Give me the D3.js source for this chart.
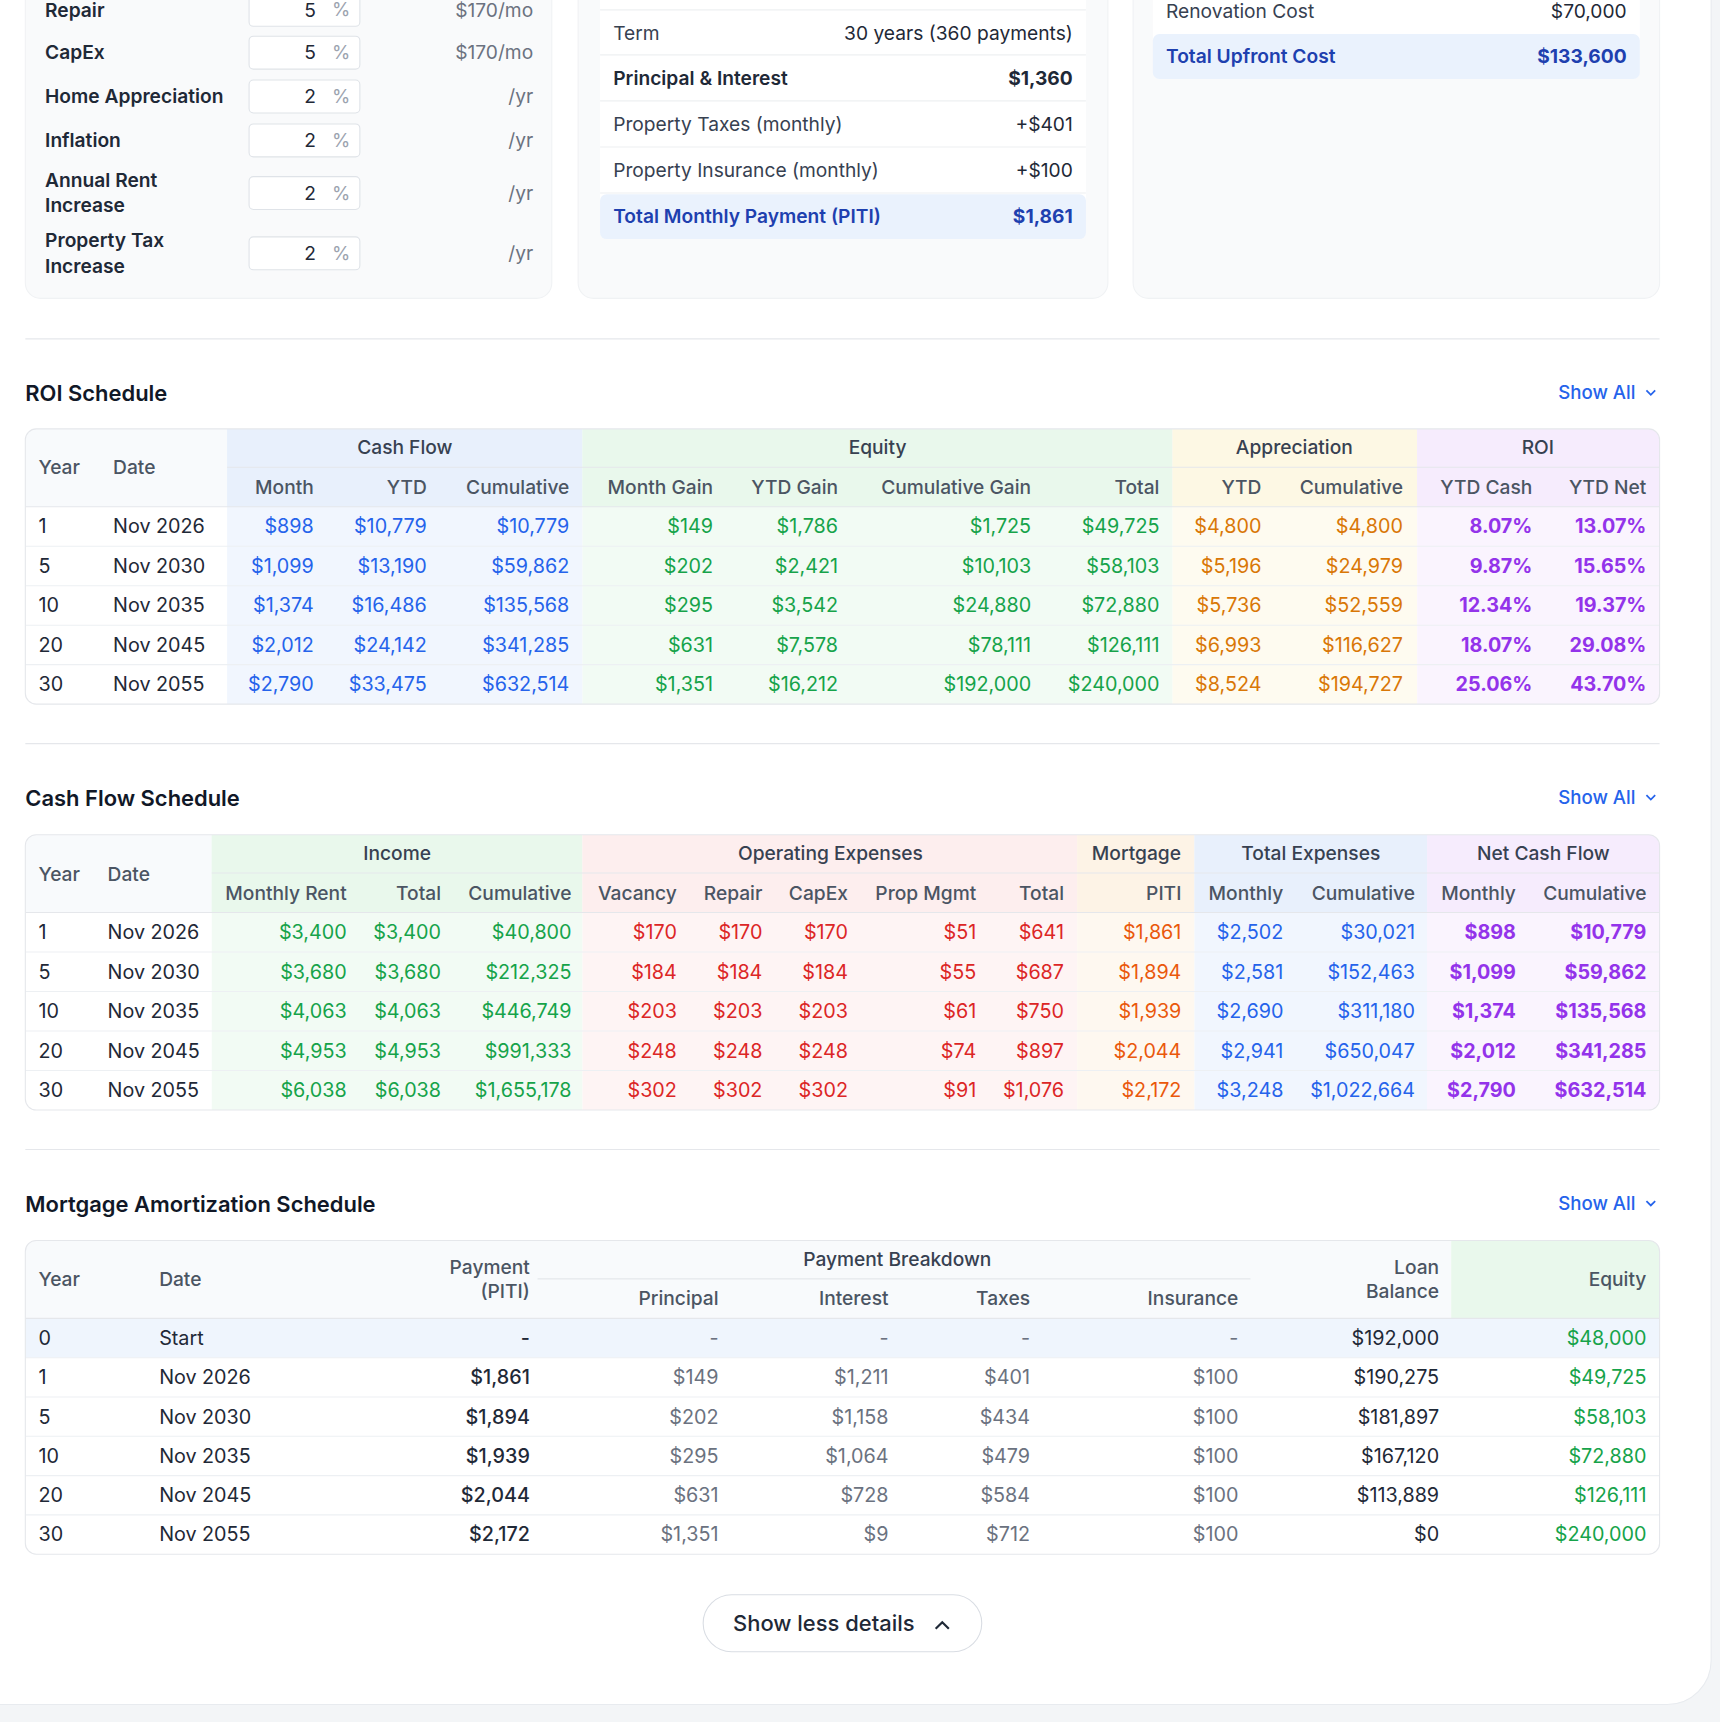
<!DOCTYPE html>
<html><head><meta charset="utf-8">
<script src="https://cdn.jsdelivr.net/npm/d3@7"></script>
<style>html,body{margin:0;padding:0;background:#f3f5f7}svg{display:block}</style>
</head><body>
<script>
// ---------- DATA ----------
const inputLabels = [["Repair"],["CapEx"],["Home Appreciation"],["Inflation"],["Annual Rent","Increase"],["Property Tax","Increase"]];
const inputValues = ["5","5","2","2","2","2"];
const inputUnits = ["$170/mo","$170/mo","/yr","/yr","/yr","/yr"];
const loanLabels = ["Term","Principal & Interest","Property Taxes (monthly)","Property Insurance (monthly)","Total Monthly Payment (PITI)"];
const loanValues = ["30 years (360 payments)","$1,360","+$401","+$100","$1,861"];
const upfrontLabels = ["Renovation Cost","Total Upfront Cost"];
const upfrontValues = ["$70,000","$133,600"];

const years = ["1","5","10","20","30"];
const dates = ["Nov 2026","Nov 2030","Nov 2035","Nov 2045","Nov 2055"];
// ROI schedule
const cfMonth = ["$898","$1,099","$1,374","$2,012","$2,790"];
const cfYTD = ["$10,779","$13,190","$16,486","$24,142","$33,475"];
const cfCum = ["$10,779","$59,862","$135,568","$341,285","$632,514"];
const eqMonthGain = ["$149","$202","$295","$631","$1,351"];
const eqYTDGain = ["$1,786","$2,421","$3,542","$7,578","$16,212"];
const eqCumGain = ["$1,725","$10,103","$24,880","$78,111","$192,000"];
const eqTotal = ["$49,725","$58,103","$72,880","$126,111","$240,000"];
const apYTD = ["$4,800","$5,196","$5,736","$6,993","$8,524"];
const apCum = ["$4,800","$24,979","$52,559","$116,627","$194,727"];
const roiCash = ["8.07%","9.87%","12.34%","18.07%","25.06%"];
const roiNet = ["13.07%","15.65%","19.37%","29.08%","43.70%"];
// Cash flow schedule
const rentMonthly = ["$3,400","$3,680","$4,063","$4,953","$6,038"];
const incomeTotal = ["$3,400","$3,680","$4,063","$4,953","$6,038"];
const incomeCum = ["$40,800","$212,325","$446,749","$991,333","$1,655,178"];
const vacancy = ["$170","$184","$203","$248","$302"];
const repair = ["$170","$184","$203","$248","$302"];
const capex = ["$170","$184","$203","$248","$302"];
const propMgmt = ["$51","$55","$61","$74","$91"];
const opexTotal = ["$641","$687","$750","$897","$1,076"];
const piti = ["$1,861","$1,894","$1,939","$2,044","$2,172"];
const expMonthly = ["$2,502","$2,581","$2,690","$2,941","$3,248"];
const expCum = ["$30,021","$152,463","$311,180","$650,047","$1,022,664"];
const ncfMonthly = ["$898","$1,099","$1,374","$2,012","$2,790"];
const ncfCum = ["$10,779","$59,862","$135,568","$341,285","$632,514"];
// Amortization
const amYears = ["0","1","5","10","20","30"];
const amDates = ["Start","Nov 2026","Nov 2030","Nov 2035","Nov 2045","Nov 2055"];
const amPayment = ["-","$1,861","$1,894","$1,939","$2,044","$2,172"];
const amPrincipal = ["-","$149","$202","$295","$631","$1,351"];
const amInterest = ["-","$1,211","$1,158","$1,064","$728","$9"];
const amTaxes = ["-","$401","$434","$479","$584","$712"];
const amInsurance = ["-","$100","$100","$100","$100","$100"];
const amBalance = ["$192,000","$190,275","$181,897","$167,120","$113,889","$0"];
const amEquity = ["$48,000","$49,725","$58,103","$72,880","$126,111","$240,000"];

// ---------- DRAW ----------
const W=1568,H=1570;
const svg=d3.select("body").append("svg").attr("width",1720).attr("height",1722).attr("viewBox",`0 0 ${W} ${H}`)
  .style("font-family","Inter, 'Noto Sans', sans-serif");
svg.append("rect").attr("width",W).attr("height",H).attr("fill","#f3f5f7");
svg.append("rect").attr("x",-40).attr("y",-40).attr("width",1600).attr("height",1594).attr("rx",40).attr("fill","#fff").attr("stroke","#e8ebef");

const C={dark:"#1f2937",grey:"#6b7280",mid:"#4b5563",blue:"#2563eb",navy:"#1e40af",green:"#16a34a",red:"#dc2626",orange:"#d97706",pmt:"#ea580c",purple:"#9333ea",line:"#e5e7eb"};
function txt(g,x,y,s,o={}){return g.append("text").attr("x",x).attr("y",y).attr("dy","0.35em").attr("text-anchor",o.a||"start")
  .attr("font-size",o.fs||18).attr("font-weight",o.fw||400).attr("fill",o.c||C.dark).text(s);}

// cards
[[23,503],[527,1010],[1033,1513]].forEach(([a,b])=>svg.append("rect").attr("x",a).attr("y",-30).attr("width",b-a).attr("height",302).attr("rx",14).attr("fill","#f9fafb").attr("stroke","#f0f2f4"));
const inY=d3.scaleOrdinal().domain(d3.range(6)).range([9,48,88,128,176,231]);
inputLabels.forEach((l,i)=>{
  const y=inY(i);
  if(l.length===1) txt(svg,41,y,l[0],{fw:600,fs:17.5});
  else {txt(svg,41,y-11.5,l[0],{fw:600,fs:17.5});txt(svg,41,y+11.5,l[1],{fw:600,fs:17.5});}
  svg.append("rect").attr("x",227).attr("y",y-15).attr("width",101).attr("height",30).attr("rx",4).attr("fill","#fff").attr("stroke","#dfe3e8");
  txt(svg,288,y,inputValues[i],{a:"end",fs:17.5});
  txt(svg,311,y,"%",{a:"middle",fs:17,c:"#9ca3af"});
  txt(svg,486,y,inputUnits[i],{a:"end",fs:17.5,c:C.grey});
});
const lnY=d3.scalePoint().domain(d3.range(5)).range([30,197]);
svg.append("rect").attr("x",547).attr("y",-20).attr("width",443).attr("height",238).attr("rx",8).attr("fill","#fff");
svg.append("rect").attr("x",547).attr("y",177).attr("width",443).attr("height",41).attr("rx",6).attr("fill","#eaf2fd");
[9,50,92,134,176].forEach(y=>svg.append("line").attr("x1",547).attr("x2",990).attr("y1",y).attr("y2",y).attr("stroke","#eef0f2"));
loanLabels.forEach((l,i)=>{const y=lnY(i),last=i===4,b=i===1;
  txt(svg,559,y,l,{fs:17.5,fw:last||b?600:400,c:last?C.navy:b?C.dark:"#374151"});
  txt(svg,978,y,loanValues[i],{a:"end",fs:17.5,fw:last||b?700:400,c:last?C.navy:C.dark});});
svg.append("rect").attr("x",1051).attr("y",-20).attr("width",444).attr("height",92).attr("rx",8).attr("fill","#fff");
svg.append("rect").attr("x",1051).attr("y",31).attr("width",444).attr("height",41).attr("rx",6).attr("fill","#eaf2fd");
upfrontLabels.forEach((l,i)=>{const y=[10,51][i],last=i===1;
  txt(svg,1063,y,l,{fs:17.5,fw:last?600:400,c:last?C.navy:"#374151"});
  txt(svg,1483,y,upfrontValues[i],{a:"end",fs:17.5,fw:last?700:400,c:last?C.navy:C.dark});});

function sep(y){svg.append("line").attr("x1",23).attr("x2",1513).attr("y1",y).attr("y2",y).attr("stroke",C.line);}
function title(y,s){txt(svg,23,y,s,{fs:20,fw:600,c:"#111827"});
  txt(svg,1491,y-1,"Show All",{a:"end",fs:17,fw:500,c:C.blue});
  svg.append("path").attr("d",`M${1501},${y-3} l4,4 l4,-4`).attr("fill","none").attr("stroke",C.blue).attr("stroke-width",1.6);}

function table(o){
  const g=svg.append("g");
  const clipId="clip"+o.top;
  g.append("clipPath").attr("id",clipId).append("rect").attr("x",23).attr("y",o.top).attr("width",1490).attr("height",o.bottom-o.top).attr("rx",10);
  const inner=g.append("g").attr("clip-path",`url(#${clipId})`);
  inner.append("rect").attr("x",23).attr("y",o.top).attr("width",1490).attr("height",o.bottom-o.top).attr("fill","#fff");
  inner.append("rect").attr("x",23).attr("y",o.top).attr("width",1490).attr("height",o.headBottom-o.top).attr("fill","#f8fafc");
  (o.bands||[]).forEach(b=>{
    inner.append("rect").attr("x",b.x0).attr("y",o.top).attr("width",b.x1-b.x0).attr("height",o.bottom-o.top).attr("fill",b.body);
    inner.append("rect").attr("x",b.x0).attr("y",o.top).attr("width",b.x1-b.x0).attr("height",o.headBottom-o.top).attr("fill",b.head);
  });
  if(o.rowBg) o.rowBg(inner);
  const y=d3.scaleBand().domain(d3.range(o.cols[0].v.length)).range([o.headBottom,o.bottom]);
  y.domain().forEach(i=>{if(i>0)inner.append("line").attr("x1",23).attr("x2",1513).attr("y1",y(i)).attr("y2",y(i)).attr("stroke","#edf0f3");});
  inner.append("line").attr("x1",23).attr("x2",1513).attr("y1",o.headBottom).attr("y2",o.headBottom).attr("stroke","#e5e7eb");
  if(o.midLine) inner.append("line").attr("x1",o.midLine[0]).attr("x2",o.midLine[1]).attr("y1",o.midY).attr("y2",o.midY).attr("stroke","#e5e7eb");
  (o.groups||[]).forEach(gr=>txt(g,gr.x,gr.y,gr.t,{a:"middle",fs:17.5,fw:500,c:"#374151"}));
  o.cols.forEach(c=>{
    (c.h||[]).forEach((h,k)=>txt(g,c.hx!==undefined?c.hx:c.x,c.hy[k],h,{a:c.ha||c.a,fs:17.5,fw:500,c:C.mid}));
    c.v.forEach((v,i)=>txt(g,c.x,y(i)+y.bandwidth()/2,v,{a:c.a,fs:18,fw:c.fw||400,c:c.c}));
  });
  g.append("rect").attr("x",23).attr("y",o.top).attr("width",1490).attr("height",o.bottom-o.top).attr("rx",10).attr("fill","none").attr("stroke","#e5e7eb");
}

sep(309); title(359,"ROI Schedule");
const h1=[444],h0=[426];
table({top:391,headBottom:462,bottom:642,midY:426,
  bands:[{x0:207,x1:531,head:"#e8f0fc",body:"#f1f6fe"},{x0:531,x1:1069,head:"#e9f8ec",body:"#f2fbf4"},{x0:1069,x1:1292,head:"#fdf8e4",body:"#fefbf0"},{x0:1292,x1:1513,head:"#f6ecfd",body:"#faf4fe"}],
  midLine:[207,1513],
  groups:[{x:369,y:408,t:"Cash Flow"},{x:800,y:408,t:"Equity"},{x:1180,y:408,t:"Appreciation"},{x:1402,y:408,t:"ROI"}],
  cols:[{v:years,x:35,a:"start",h:["Year"],hy:h0},{v:dates,x:103,a:"start",h:["Date"],hy:h0},
   {v:cfMonth,x:286,a:"end",c:C.blue,h:["Month"],hy:h1},{v:cfYTD,x:389,a:"end",c:C.blue,h:["YTD"],hy:h1},{v:cfCum,x:519,a:"end",c:C.blue,h:["Cumulative"],hy:h1},
   {v:eqMonthGain,x:650,a:"end",c:C.green,h:["Month Gain"],hy:h1},{v:eqYTDGain,x:764,a:"end",c:C.green,h:["YTD Gain"],hy:h1},{v:eqCumGain,x:940,a:"end",c:C.green,h:["Cumulative Gain"],hy:h1},{v:eqTotal,x:1057,a:"end",c:C.green,h:["Total"],hy:h1},
   {v:apYTD,x:1150,a:"end",c:C.orange,h:["YTD"],hy:h1},{v:apCum,x:1279,a:"end",c:C.orange,h:["Cumulative"],hy:h1},
   {v:roiCash,x:1397,a:"end",c:C.purple,fw:700,h:["YTD Cash"],hy:h1},{v:roiNet,x:1501,a:"end",c:C.purple,fw:700,h:["YTD Net"],hy:h1}]});

sep(678); title(728,"Cash Flow Schedule");
const h2=[814],h20=[797];
table({top:761,headBottom:832,bottom:1012,midY:796,
  bands:[{x0:193,x1:531,head:"#e9f8ec",body:"#f2fbf4"},{x0:531,x1:982,head:"#fdeeee",body:"#fef4f4"},{x0:982,x1:1089,head:"#fdf3e6",body:"#fef8f0"},{x0:1089,x1:1301,head:"#e8f0fc",body:"#f1f6fe"},{x0:1301,x1:1513,head:"#f6ecfd",body:"#faf4fe"}],
  midLine:[193,1513],
  groups:[{x:362,y:778,t:"Income"},{x:757,y:778,t:"Operating Expenses"},{x:1036,y:778,t:"Mortgage"},{x:1195,y:778,t:"Total Expenses"},{x:1407,y:778,t:"Net Cash Flow"}],
  cols:[{v:years,x:35,a:"start",h:["Year"],hy:h20},{v:dates,x:98,a:"start",h:["Date"],hy:h20},
   {v:rentMonthly,x:316,a:"end",c:C.green,h:["Monthly Rent"],hy:h2},{v:incomeTotal,x:402,a:"end",c:C.green,h:["Total"],hy:h2},{v:incomeCum,x:521,a:"end",c:C.green,h:["Cumulative"],hy:h2},
   {v:vacancy,x:617,a:"end",c:C.red,h:["Vacancy"],hy:h2},{v:repair,x:695,a:"end",c:C.red,h:["Repair"],hy:h2},{v:capex,x:773,a:"end",c:C.red,h:["CapEx"],hy:h2},{v:propMgmt,x:890,a:"end",c:C.red,h:["Prop Mgmt"],hy:h2},{v:opexTotal,x:970,a:"end",c:C.red,h:["Total"],hy:h2},
   {v:piti,x:1077,a:"end",c:C.pmt,h:["PITI"],hy:h2},
   {v:expMonthly,x:1170,a:"end",c:C.blue,h:["Monthly"],hy:h2},{v:expCum,x:1290,a:"end",c:C.blue,h:["Cumulative"],hy:h2},
   {v:ncfMonthly,x:1382,a:"end",c:C.purple,fw:700,h:["Monthly"],hy:h2},{v:ncfCum,x:1501,a:"end",c:C.purple,fw:700,h:["Cumulative"],hy:h2}]});

sep(1048); title(1098,"Mortgage Amortization Schedule");
const h3=[1184],h30=[1166],h3b=[1155,1177];
table({top:1131,headBottom:1202,bottom:1417,midY:1166,
  bands:[{x0:1323,x1:1513,head:"#e9f8ec",body:"#fff"}],
  rowBg:g=>g.append("rect").attr("x",23).attr("y",1202).attr("width",1490).attr("height",35.8).attr("fill","#eff5fd"),
  midLine:[490,1140],
  groups:[{x:818,y:1148,t:"Payment Breakdown"}],
  cols:[{v:amYears,x:35,a:"start",h:["Year"],hy:h30},{v:amDates,x:145,a:"start",h:["Date"],hy:h30},
   {v:amPayment,x:483,a:"end",fw:500,h:["Payment","(PITI)"],hy:h3b},
   {v:amPrincipal,x:655,a:"end",c:C.grey,h:["Principal"],hy:h3},{v:amInterest,x:810,a:"end",c:C.grey,h:["Interest"],hy:h3},{v:amTaxes,x:939,a:"end",c:C.grey,h:["Taxes"],hy:h3},{v:amInsurance,x:1129,a:"end",c:C.grey,h:["Insurance"],hy:h3},
   {v:amBalance,x:1312,a:"end",h:["Loan","Balance"],hy:h3b},{v:amEquity,x:1501,a:"end",c:C.green,h:["Equity"],hy:h30}]});

svg.append("rect").attr("x",641).attr("y",1454).attr("width",254).attr("height",52).attr("rx",26).attr("fill","#fff").attr("stroke","#d9dde3");
txt(svg,751,1480,"Show less details",{a:"middle",fs:20,fw:500,c:"#1f2937"});
svg.append("path").attr("d","M853,1485 l6,-6 l6,6").attr("fill","none").attr("stroke","#1f2937").attr("stroke-width",2);
</script>
</body></html>
